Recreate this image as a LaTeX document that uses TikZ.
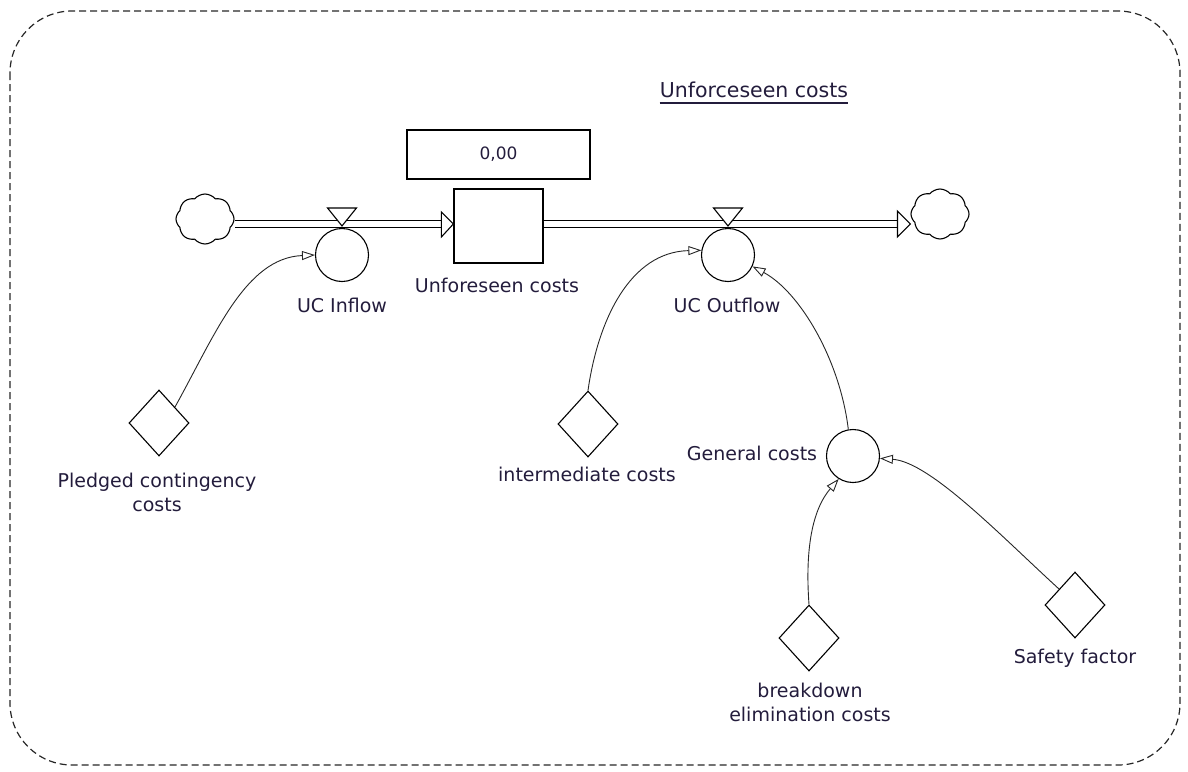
\documentclass[tikz,border=0pt]{standalone}
\usepackage{fontspec}
\setmainfont{DejaVu Sans}
\usetikzlibrary{arrows.meta,shapes.geometric,shapes.symbols,calc}
\definecolor{txt}{RGB}{35,28,60}
\begin{document}
\begin{tikzpicture}[x=1pt,y=-1pt,
  lbl/.style={font=\fontsize{19}{24}\selectfont, text=txt, inner sep=0pt, align=center},
  aux/.style={draw, diamond, minimum width=60pt, minimum height=66pt, inner sep=0pt, line width=1.1pt},
  conv/.style={draw, circle, minimum size=53pt, inner sep=0pt, line width=1.1pt},
  stockbox/.style={draw, rectangle, minimum width=89pt, minimum height=74pt, line width=1.3pt},
  cloudy/.style={draw, cloud, cloud puffs=8, cloud puff arc=100, minimum width=58pt, minimum height=50pt, inner sep=0pt, line width=1.1pt},
  pipe/.style={double, double distance=5.5pt, line width=1.2pt},
  link/.style={line width=0.9pt, draw=black!85, -{Triangle[open, length=13pt, width=9pt]}},
  valve/.style={draw, line width=1.1pt, fill=white},
]
\useasboundingbox (0,0) rectangle (1188,771);
% border
\draw[black!85, line width=1.2pt, dash pattern=on 7pt off 4pt, rounded corners=62pt] (10,11) rectangle (1180,765);
% title
\node[font=\fontsize{20.5}{24}\selectfont, text=txt, anchor=base, inner sep=0pt] (title) at (754,97) {Unforceseen costs};
\draw[line width=1.4pt, txt] ([yshift=-6pt]title.base west) -- ([yshift=-6pt]title.base east);
% main nodes
\node[cloudy] (cin) at (205,219) {};
\node[cloudy] (cout) at (940,214) {};
\node[stockbox] (stock) at (498.5,226) {};
\node[draw, line width=1.3pt, minimum width=183pt, minimum height=49pt, inner sep=0pt, font=\fontsize{17}{20}\selectfont, text=txt] (val) at (498.5,154.5) {0,00};
\node[conv] (ucin) at (342,255) {};
\node[conv] (ucout) at (728,255) {};
\node[conv] (gc) at (853,456) {};
\node[aux] (pc) at (159,423) {};
\node[aux] (ic) at (588,424) {};
\node[aux] (bd) at (809,638) {};
\node[aux] (sf) at (1075,605) {};
% pipes
\coordinate (inTip) at (stock.west |- 0,224);
\coordinate (outTip) at (cout.west |- 0,224);
\draw[pipe] (cin.east |- inTip) -- ($(inTip)+(-12,0)$);
\draw[valve] ($(inTip)+(-12,-12)$) -- (inTip) -- ($(inTip)+(-12,13)$) -- cycle;
\draw[pipe] (stock.east |- outTip) -- ($(outTip)+(-13,0)$);
\draw[valve] ($(outTip)+(-13,-13)$) -- (outTip) -- ($(outTip)+(-13,13)$) -- cycle;
% valves
\draw[valve] ($(ucin.north)+(-14.5,-20)$) -- ($(ucin.north)+(14.5,-20)$) -- ($(ucin.north)+(0,-2)$) -- cycle;
\draw[valve] ($(ucout.north)+(-14.5,-20)$) -- ($(ucout.north)+(14.5,-20)$) -- ($(ucout.north)+(0,-2)$) -- cycle;
% labels
\node[lbl] (lin) at (342,305) {UC Inflow};
\node[lbl] (lstock) at (497,285) {Unforeseen costs};
\node[lbl] (lout) at (727,305) {UC Outflow};
\node[lbl] (lpc) at (157,492) {Pledged contingency\\costs};
\node[lbl] (lic) at (587,474) {intermediate costs};
\node[lbl] (lgc) at (752,453) {General costs};
\node[lbl] (lbd) at (810,702) {breakdown\\elimination costs};
\node[lbl] (lsf) at (1075,658) {Safety factor};
% links
\draw[link] (pc.45) .. controls (215,335) and (245,258) .. (ucin.west);
\draw[link] (ic.north) .. controls (598,320) and (630,252) .. (ucout.170);
\draw[link] (gc.100) .. controls (840,360) and (800,292) .. (ucout.-25);
\draw[link] (bd.north) .. controls (805,550) and (812,510) .. (gc.-122);
\draw[link] (sf.135) .. controls (1000,535) and (930,462) .. (gc.-5);
\end{tikzpicture}
\end{document}
